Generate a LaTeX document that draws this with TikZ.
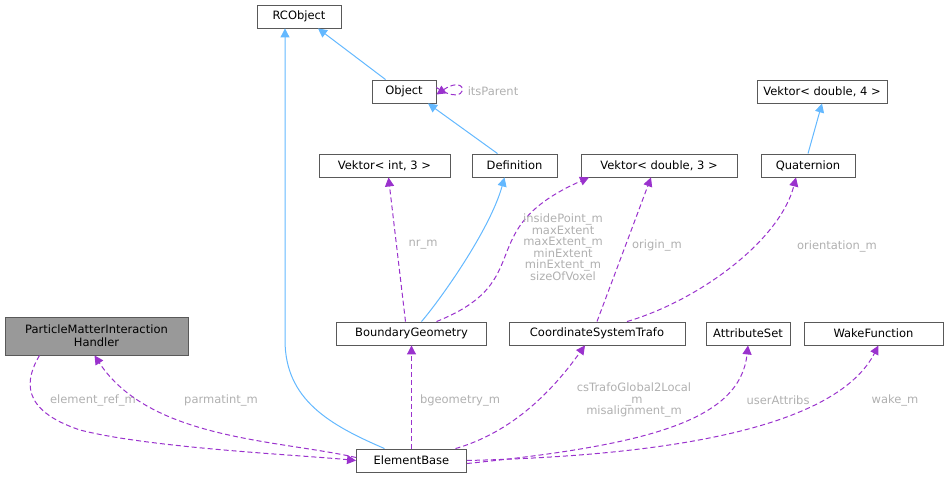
\documentclass[tikz,border=0pt]{standalone}
\usepackage{fontspec}
\setmainfont{DejaVu Sans}
\usetikzlibrary{arrows.meta}
\definecolor{inh}{HTML}{63B8FF}
\definecolor{use}{HTML}{9A32CD}
\definecolor{lbl}{HTML}{B0B0B0}
\tikzset{
  cls/.style={draw=black!65, line width=0.9pt, fill=white, minimum height=23pt, inner sep=0pt, font=\fontsize{11.5}{13}\selectfont},
  inhr/.style={color=inh, line width=1pt, -{Triangle[length=9pt,width=9pt]}},
  usr/.style={color=use, line width=1pt, dash pattern=on 5pt off 3pt, -{Triangle[length=9pt,width=9pt]}},
  lab/.style={text=lbl, font=\fontsize{11.5}{12.5}\selectfont, align=center}
}
\begin{document}
\begin{tikzpicture}[x=1pt,y=-1pt]
  %%%%% START %%%%%
  \useasboundingbox (0,0) rectangle (950,479);

  \node[cls, minimum width=84pt] (rco) at (299,16.5) {RCObject};
  \node[cls, minimum width=64pt] (obj) at (404,91.5) {Object};
  \node[cls, minimum width=130pt] (vd4) at (822,91.5) {Vektor< double, 4 >};
  \node[cls, minimum width=131pt] (vi3) at (384.5,165.5) {Vektor< int, 3 >};
  \node[cls, minimum width=85pt] (def) at (514.5,165.5) {Definition};
  \node[cls, minimum width=156pt] (vd3) at (659,165.5) {Vektor< double, 3 >};
  \node[cls, minimum width=94pt] (qua) at (808,165.5) {Quaternion};
  \node[cls, minimum width=183pt, minimum height=38pt, fill=black!40, align=center, font=\fontsize{11.5}{13}\selectfont] (pmi) at (96.5,336) {ParticleMatterInteraction\\Handler};
  \node[cls, minimum width=150pt] (bgm) at (411.5,333.5) {BoundaryGeometry};
  \node[cls, minimum width=176pt] (cst) at (597,333.5) {CoordinateSystemTrafo};
  \node[cls, minimum width=84pt] (ats) at (748,333.5) {AttributeSet};
  \node[cls, minimum width=139pt] (wkf) at (873.5,333.5) {WakeFunction};
  \node[cls, minimum width=110pt] (elb) at (411.5,460.5) {ElementBase};

  % inheritance
  \draw[inhr] ([xshift=14pt]obj.north west) -- ([xshift=19pt]rco.south);
  \draw[inhr] ([xshift=-17pt]def.north) -- ([xshift=24pt]obj.south);
  \draw[inhr] (qua.north) -- (vd4.south);
  \draw[inhr] ([xshift=-27pt]elb.north) .. controls (330,425) and (285,400) .. (285,340) -- ([xshift=-14pt]rco.south);
  \draw[inhr] ([xshift=10pt]bgm.north) .. controls (440,300) and (490,230) .. ([xshift=-10pt]def.south);

  % usage
  \draw[usr] ([yshift=4pt]obj.east) .. controls (470,110) and (470,72) .. ([yshift=-3pt]obj.east);
  \node[lab] (l0) at (493,91.5) {itsParent};
  \draw[usr] ([xshift=-6pt]bgm.north) -- ([xshift=4pt]vi3.south);
  \node[lab] (l1) at (423,245) {nr\_m};
  \draw[usr] ([xshift=25pt]bgm.north) .. controls (540,280) and (470,230) .. ([xshift=-70pt]vd3.south);
  \node[lab, font=\fontsize{11.5}{11.5}\selectfont] (l2) at (563,247) {insidePoint\_m\\maxExtent\\maxExtent\_m\\minExtent\\minExtent\_m\\sizeOfVoxel};
  \draw[usr] ([xshift=0pt]cst.north) -- ([xshift=-8pt]vd3.south);
  \node[lab] (l3) at (657,245) {origin\_m};
  \draw[usr] ([xshift=30pt]cst.north) .. controls (700,300) and (780,240) .. ([xshift=-12pt]qua.south);
  \node[lab] (l4) at (837,246) {orientation\_m};

  \draw[usr] ([xshift=-57pt]pmi.south) .. controls (25,380) and (20,410) .. (80,430) .. controls (150,448) and (300,455) .. (elb.west);
  \node[lab] (l5) at (93,400) {element\_ref\_m};
  \draw[usr] ([yshift=3pt]elb.west) .. controls (280,440) and (150,440) .. ([xshift=-2pt]pmi.south);
  \node[lab] (l6) at (221,400) {parmatint\_m};
  \draw[usr] (elb.north) -- (bgm.south);
  \node[lab] (l7) at (460,400) {bgeometry\_m};
  \draw[usr] ([xshift=44pt]elb.north) .. controls (520,430) and (560,380) .. ([xshift=-12pt]cst.south);
  \node[lab, font=\fontsize{11.5}{11.5}\selectfont] (l8) at (634,400) {csTrafoGlobal2Local\\\_m\\misalignment\_m};
  \draw[usr] ([yshift=-3pt]elb.east) .. controls (650,445) and (740,420) .. (ats.south);
  \node[lab] (l9) at (778,400) {userAttribs};
  \draw[usr] (elb.east) .. controls (700,455) and (840,420) .. ([xshift=5pt]wkf.south);
  \node[lab] (l10) at (895,400) {wake\_m};
  %%%%% END %%%%%
\end{tikzpicture}
\end{document}
